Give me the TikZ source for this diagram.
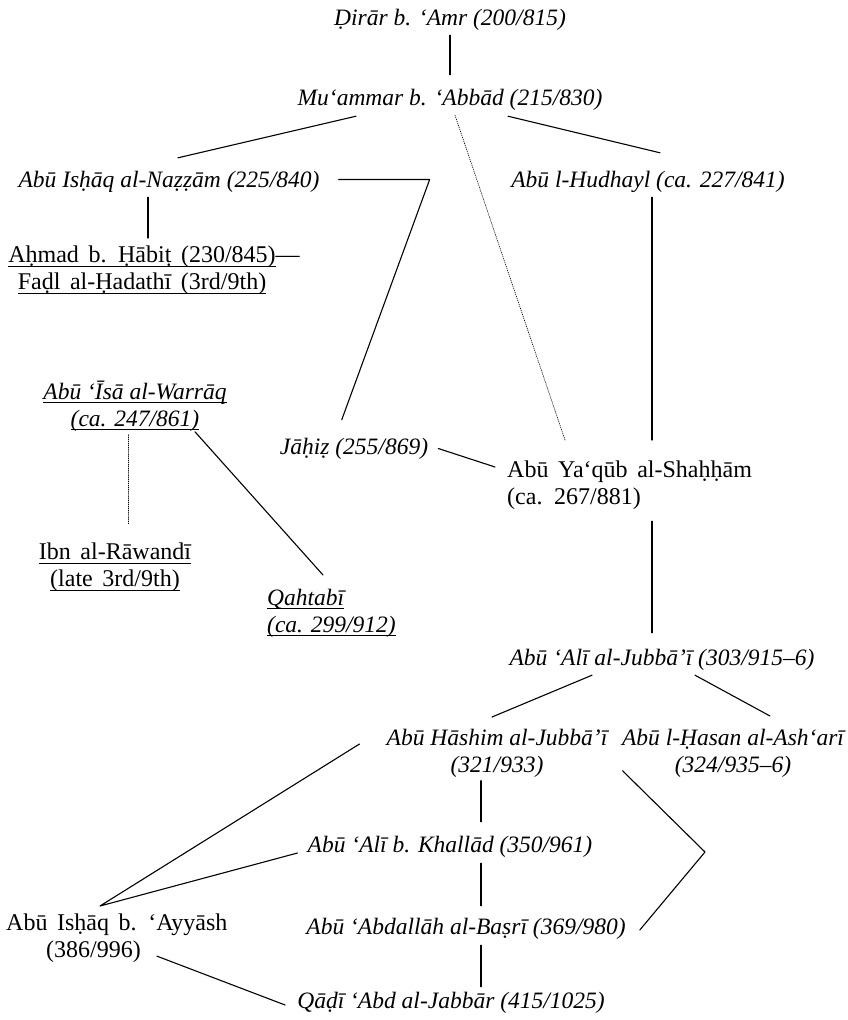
\documentclass[tikz,border=0pt]{standalone}
\usepackage{fontspec}
\setmainfont{Liberation Serif}
\newfontfamily\uprm{Liberation Serif}[WordSpace=1.6]
\newcommand{\ulined}[1]{\setbox0=\hbox{#1}\rlap{\rule[-3.5pt]{\wd0}{0.8pt}}\box0}
\tikzset{
  txt/.style={inner sep=0pt, font=\fontsize{24}{27}\selectfont\uprm},
  itxt/.style={inner sep=0pt, font=\fontsize{23.5}{27}\selectfont\itshape},
  oneline/.style={text height=16pt, text depth=5pt},
  link/.style={line width=1.1pt},
  vague/.style={line width=0.7pt, dash pattern=on 0.7pt off 1.4pt}
}

\begin{document}
\begin{tikzpicture}[x=1pt, y=-1pt, line cap=round, line join=round]
        \useasboundingbox (0, 0) rectangle (848, 1020);
        % draw first masters
        \node[itxt, oneline, anchor=base] (dirar) at (450, 25) {Ḍirār b. ‘Amr (200/815)};
        \node[itxt, oneline, anchor=base] (muammar) at (450, 105) {Mu‘ammar b. ‘Abbād (215/830)};
        % draw basran students
        \node[itxt, oneline, anchor=base] (nazzam) at (169, 187) {Abū Isḥāq al-Naẓẓām (225/840)};
        \node[itxt, oneline, anchor=base] (hudhayl) at (648, 187) {Abū l-Hudhayl (ca. 227/841)};
        \node[txt, align=center, anchor=north] (ahmad) at (142, 246) {\ulined{Aḥmad b. Ḥābiṭ (230/845)}\rlap{—}\\\ulined{Faḍl al-Ḥadathī (3rd/9th)}};
        % draw heterodox thinkers
        \node[itxt, align=center, anchor=north] (warraq) at (135, 381) {\ulined{Abū ‘Īsā al-Warrāq}\\\ulined{(ca. 247/861)}};
        \node[txt, align=center, anchor=north] (rawandi) at (115, 543) {\ulined{Ibn al-Rāwandī}\\\ulined{(late 3rd/9th)}};
        \node[itxt, align=left, anchor=north west] (qahtabi) at (267, 589) {\ulined{Qahtabī}\\\ulined{(ca. 299/912)}};
        % draw middle generation
        \node[itxt, oneline, anchor=base] (jahiz) at (354, 454) {Jāḥiẓ (255/869)};
        \node[txt, align=left, anchor=north west] (shahham) at (507, 461) {Abū Ya‘qūb al-Shaḥḥām\\(ca. 267/881)};
        \node[itxt, oneline, anchor=base] (jubbai) at (662, 665) {Abū ‘Alī al-Jubbā’ī (303/915–6)};
        \node[itxt, align=center, anchor=north] (hashim) at (497, 729) {Abū Hāshim al-Jubbā’ī\\(321/933)};
        \node[itxt, align=center, anchor=north] (ashari) at (733, 729) {Abū l-Ḥasan al-Ash‘arī\\(324/935–6)};
        % draw late basrans
        \node[itxt, oneline, anchor=base] (khallad) at (450, 852) {Abū ‘Alī b. Khallād (350/961)};
        \node[itxt, oneline, anchor=base] (basri) at (466, 934) {Abū ‘Abdallāh al-Baṣrī (369/980)};
        \node[itxt, oneline, anchor=base] (jabbar) at (451, 1008) {Qāḍī ‘Abd al-Jabbār (415/1025)};
        \node[txt, align=left, anchor=north west] (ayyash) at (6, 914) {Abū Isḥāq b. ‘Ayyāsh\\\hspace*{40pt}(386/996)};
        % draw lines from dirar down to shahham
        \draw[link] ([yshift=-5pt]dirar.south) -- ([yshift=14pt]muammar.north);
        \draw[link] ([xshift=-94pt, yshift=-6pt]muammar.south) -- ([xshift=9pt, yshift=13pt]nazzam.north);
        \draw[link] ([xshift=58pt, yshift=-6pt]muammar.south) -- ([xshift=12pt, yshift=18pt]hudhayl.north);
        \draw[vague] ([xshift=5pt, yshift=-5pt]muammar.south) -- ([xshift=58pt, yshift=21pt]shahham.north west);
        \draw[link] ([xshift=19pt, yshift=2pt]nazzam.east) -- ++(91, 0) -- ([xshift=62pt, yshift=18pt]jahiz.north west);
        \draw[link] ([xshift=-21pt, yshift=-5pt]nazzam.south) -- ([xshift=6pt, yshift=8pt]ahmad.north);
        \draw[link] ([xshift=4pt, yshift=-5pt]hudhayl.south) -- ([xshift=145pt, yshift=21pt]shahham.north west);
        \draw[link] ([xshift=10pt]jahiz.east) -- ([xshift=-12pt, yshift=-6pt]shahham.north west);
        % draw lines of warraq
        \draw[vague] ([xshift=-7pt, yshift=-3pt]warraq.south) -- ([xshift=13pt, yshift=18pt]rawandi.north);
        \draw[link] ([xshift=60pt]warraq.south) -- ([xshift=56pt, yshift=14pt]qahtabi.north west);
        % draw lines from shahham down to jabbar
        \draw[link] ([xshift=145pt, yshift=-11pt]shahham.south west) -- ([xshift=-10pt, yshift=16pt]jubbai.north);
        \draw[link] ([xshift=-70pt, yshift=-5pt]jubbai.south) -- ([xshift=-5pt, yshift=12pt]hashim.north);
        \draw[link] ([xshift=33pt, yshift=-5pt]jubbai.south) -- ([xshift=37pt, yshift=13pt]ashari.north);
        \coordinate (apex) at ([xshift=94pt, yshift=8pt]ayyash.north west);
        \draw[link] ([xshift=-27pt, yshift=-15pt]hashim.north west) -- (apex) -- ([xshift=-10pt, yshift=-6.5pt]khallad.west);
        \draw[link] ([xshift=-16pt, yshift=-3pt]hashim.south) -- ([xshift=31pt, yshift=14pt]khallad.north);
        \coordinate (bend) at (705, 852);
        \draw[link] ([xshift=15pt, yshift=7pt]hashim.south east) -- (bend) -- ([xshift=14pt, yshift=-1.5pt]basri.east);
        \draw[link] ([xshift=31pt, yshift=-6pt]khallad.south) -- ([xshift=15pt, yshift=12pt]basri.north);
        \draw[link] ([xshift=15pt, yshift=-6pt]basri.south) -- ([xshift=30pt, yshift=5pt]jabbar.north);
        \draw[link] ([xshift=151pt, yshift=7pt]ayyash.south west) -- ([xshift=-12pt, yshift=-2.5pt]jabbar.west);
\end{tikzpicture}
\end{document}
